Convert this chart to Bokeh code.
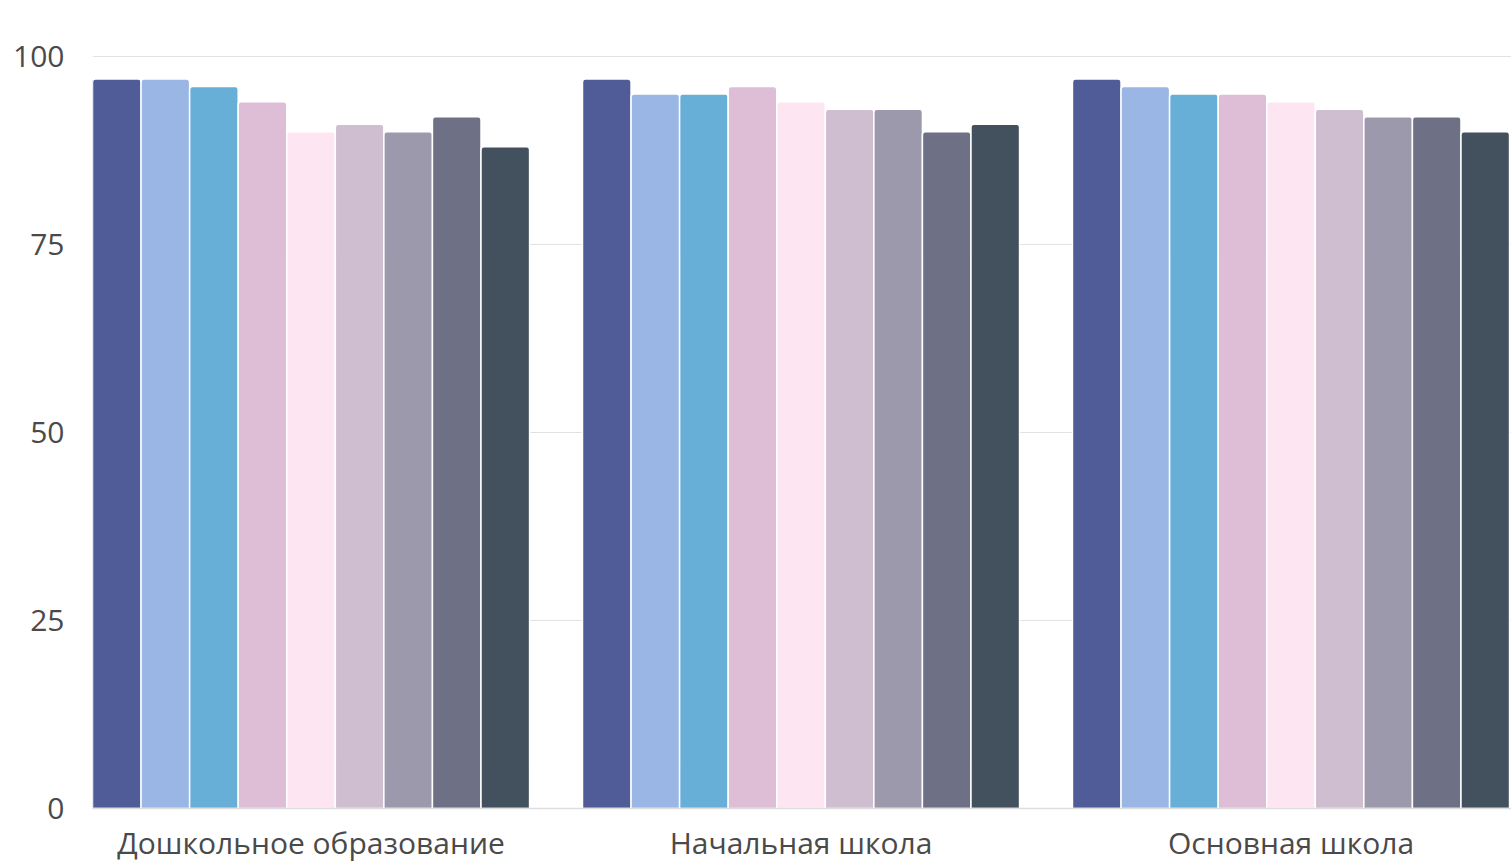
from bokeh.plotting import figure
from bokeh.models import Range1d, FixedTicker, ColumnDataSource
from bokeh.embed import file_html
from bokeh.resources import INLINE

# Categories (education levels) and the nine series shown within each group
categories = ["Дошкольное образование", "Начальная школа", "Основная школа"]

preschool = [97, 97, 96, 94, 90, 91, 90, 92, 88]
primary = [97, 95, 95, 96, 94, 93, 93, 90, 91]
basic = [97, 96, 95, 95, 94, 93, 92, 92, 90]

series_colors = ["#505c97", "#99b6e4", "#67afd6", "#debdd6", "#fde6f2",
                 "#cfbdd0", "#9c99ac", "#6e7186", "#43505d"]

y_ticks = [0, 25, 50, 75, 100]

group_values = [preschool, primary, basic]
n_series = len(series_colors)
group_span = 0.892          # fraction of each category slot occupied by bars
slot = group_span / n_series

left, right, top, color = [], [], [], []
for gi, vals in enumerate(group_values):
    for si, v in enumerate(vals):
        left.append(gi + si * slot)
        right.append(gi + (si + 1) * slot)
        top.append(v)
        color.append(series_colors[si])

src = ColumnDataSource(dict(left=left, right=right, top=top,
                            bottom=[0] * len(top), color=color))

p = figure(frame_width=1419, frame_height=808,
           x_range=Range1d(0, 2.896), y_range=Range1d(0, 107.45),
           output_backend="svg", toolbar_location=None,
           min_border_left=92, min_border_right=0, min_border_top=0,
           min_border_bottom=0)

p.quad(left="left", right="right", top="top", bottom="bottom", source=src,
       fill_color="color", line_color="white", line_width=1.5,
       border_radius=(3, 3, 0, 0))

# Axes styling
font = "Open Sans"
label_color = "#4a4a4a"

p.yaxis.ticker = FixedTicker(ticks=y_ticks)
p.yaxis.axis_line_color = None
p.yaxis.major_tick_line_color = None
p.yaxis.minor_tick_line_color = None
p.yaxis.major_label_text_font = font
p.yaxis.major_label_text_font_size = "30px"
p.yaxis.major_label_text_color = label_color
p.yaxis.major_label_standoff = 22

centers = [gi + group_span / 2 for gi in range(len(categories))]
p.xaxis.ticker = FixedTicker(ticks=centers)
p.xaxis.major_label_overrides = {c: name for c, name in zip(centers, categories)}
p.xaxis.axis_line_color = "#dddddd"
p.xaxis.axis_line_width = 1.5
p.xaxis.major_tick_line_color = None
p.xaxis.minor_tick_line_color = None
p.xaxis.major_label_text_font = font
p.xaxis.major_label_text_font_size = "30px"
p.xaxis.major_label_text_color = label_color
p.xaxis.major_label_standoff = 7

p.xgrid.grid_line_color = None
p.ygrid.grid_line_color = "#e2e2e2"
p.ygrid.grid_line_width = 1
p.ygrid.ticker = FixedTicker(ticks=y_ticks[1:])

p.outline_line_color = None
p.background_fill_color = "white"
p.border_fill_color = "white"

open("out.html", "w").write(file_html(p, INLINE))
